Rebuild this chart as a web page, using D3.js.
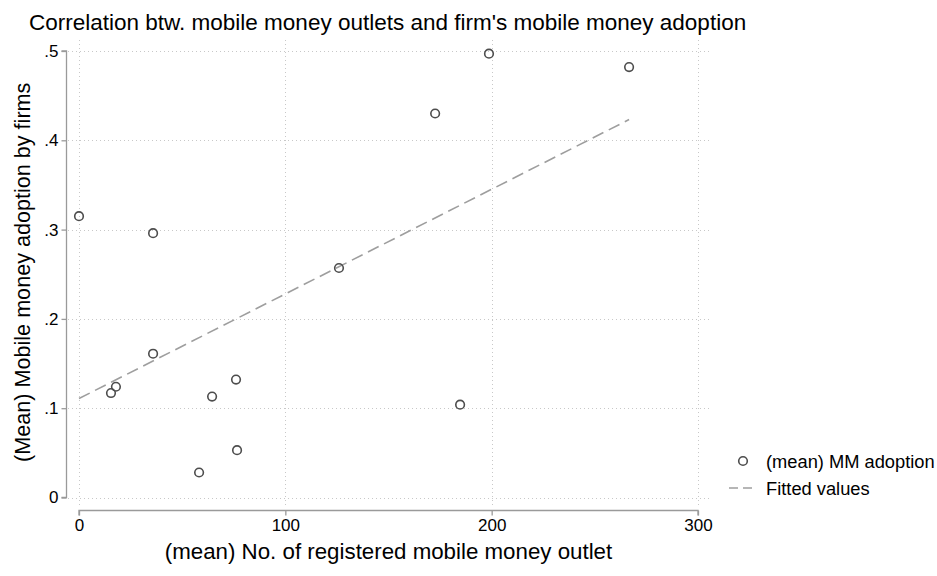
<!DOCTYPE html>
<html>
<head>
<meta charset="utf-8">
<script src="https://cdn.jsdelivr.net/npm/d3@7"></script>
<style>
  html, body { margin: 0; padding: 0; background: #fff; }
  svg { display: block; font-family: "Liberation Sans", Arial, sans-serif; }
</style>
</head>
<body>
<svg id="chart" width="937" height="576"></svg>
<script>
// Mean number of registered mobile money outlets per region
const outlets = [0, 35.9, 35.9, 15.5, 17.9, 64.5, 76.1, 58.2, 76.6, 126, 172.6, 198.7, 184.7, 266.6];
// Mean share of firms adopting mobile money in the same regions
const adoption = [0.315, 0.296, 0.161, 0.117, 0.124, 0.113, 0.132, 0.028, 0.053, 0.257, 0.430, 0.497, 0.104, 0.482];

const xTicks = [0, 100, 200, 300];
const yTicks = [0, 0.1, 0.2, 0.3, 0.4, 0.5];
const yTickLabels = ["0", ".1", ".2", ".3", ".4", ".5"];

const titleText = "Correlation btw. mobile money outlets and firm's mobile money adoption";
const xTitle = "(mean) No. of registered mobile money outlet";
const yTitle = "(Mean) Mobile money adoption by firms";
const legendLabels = ["(mean) MM adoption", "Fitted values"];

const svg = d3.select("#chart");

const x = d3.scaleLinear().domain([0, 300]).range([79, 698]);
const y = d3.scaleLinear().domain([0, 0.5]).range([497.5, 51]);

// Least-squares fit of adoption on outlets
const mx = d3.mean(outlets), my = d3.mean(adoption);
let sxy = 0, sxx = 0;
outlets.forEach((v, i) => { sxy += (v - mx) * (adoption[i] - my); sxx += (v - mx) * (v - mx); });
const slope = sxy / sxx, intercept = my - slope * mx;
const fitX = d3.extent(outlets);

// Dotted grid
const grid = svg.append("g").attr("stroke", "#c8c8c8").attr("stroke-width", 1)
  .attr("stroke-dasharray", "1,3");
grid.selectAll("line.h").data(yTicks).join("line")
  .attr("x1", 68).attr("x2", 711)
  .attr("y1", d => Math.round(y(d)) + 0.5).attr("y2", d => Math.round(y(d)) + 0.5);
grid.selectAll("line.v").data(xTicks).join("line")
  .attr("y1", 40).attr("y2", 506)
  .attr("x1", d => Math.round(x(d)) + 0.5).attr("x2", d => Math.round(x(d)) + 0.5);

// Y axis
const yAxis = svg.append("g").attr("transform", "translate(66.5,0)")
  .call(d3.axisLeft(y).tickValues(yTicks).tickFormat((d, i) => yTickLabels[i]).tickSize(5).tickPadding(3));
// X axis
const xAxis = svg.append("g").attr("transform", "translate(0,510.5)")
  .call(d3.axisBottom(x).tickValues(xTicks).tickFormat(d3.format("d")).tickSize(5).tickPadding(3));

[yAxis, xAxis].forEach(ax => {
  ax.select(".domain").attr("stroke", "#9a9a9a").attr("stroke-width", 1.3);
  ax.selectAll(".tick line").attr("stroke", "#9a9a9a").attr("stroke-width", 1.3);
  ax.selectAll(".tick text").attr("fill", "#000").style("font-size", "17px")
    .style("font-family", "'Liberation Sans', Arial, sans-serif");
});
yAxis.select(".domain").attr("d", `M-5,${y(0.5)}H0V${y(0)}H-5`);
xAxis.select(".domain").attr("d", `M${x(0)},5V0H${x(300)}V5`);

// Fitted line
svg.append("line")
  .attr("x1", x(fitX[0])).attr("y1", y(intercept + slope * fitX[0]))
  .attr("x2", x(fitX[1])).attr("y2", y(intercept + slope * fitX[1]))
  .attr("stroke", "#9e9e9e").attr("stroke-width", 1.6).attr("stroke-dasharray", "12,6");

// Scatter points
svg.append("g").selectAll("circle").data(outlets).join("circle")
  .attr("cx", d => x(d)).attr("cy", (d, i) => y(adoption[i]))
  .attr("r", 4.3).attr("fill", "none").attr("stroke", "#4d4d4d").attr("stroke-width", 1.6);

// Titles
svg.append("text").attr("x", 29).attr("y", 30).attr("font-size", 22.5).attr("fill", "#000")
  .text(titleText);
svg.append("text").attr("x", (x(0) + x(300)) / 2).attr("y", 559).attr("text-anchor", "middle")
  .attr("font-size", 22.3).attr("fill", "#000").text(xTitle);
svg.append("text").attr("transform", `translate(30,${(y(0) + y(0.5)) / 2 - 2}) rotate(-90)`)
  .attr("text-anchor", "middle").attr("font-size", 21.6).attr("fill", "#000").text(yTitle);

// Legend
const lg = svg.append("g");
lg.append("circle").attr("cx", 743).attr("cy", 461).attr("r", 4.3)
  .attr("fill", "none").attr("stroke", "#4d4d4d").attr("stroke-width", 1.6);
lg.append("line").attr("x1", 729).attr("x2", 755).attr("y1", 488).attr("y2", 488)
  .attr("stroke", "#9e9e9e").attr("stroke-width", 1.6).attr("stroke-dasharray", "9,5");
lg.selectAll("text").data(legendLabels).join("text")
  .attr("x", 766).attr("y", (d, i) => 467.5 + i * 27)
  .attr("font-size", 18.3).attr("fill", "#000").text(d => d);
</script>
</body>
</html>
